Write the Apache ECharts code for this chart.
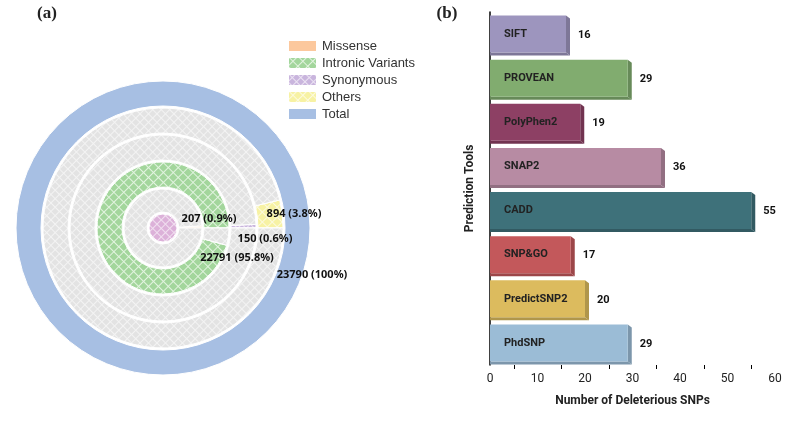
<!DOCTYPE html>
<html>
<head>
<meta charset="utf-8">
<script src="https://cdn.jsdelivr.net/npm/echarts@6/dist/echarts.min.js"></script>
<style>
  html, body { margin: 0; padding: 0; background: #fff; }
  #main { width: 790px; height: 424px; }
</style>
</head>
<body>
<div id="main"></div>
<script>
// (a) variant rings, inside -> outside
const variantNames = ['Missense', 'Intronic Variants', 'Synonymous', 'Others', 'Total']
const variantCounts = [207, 22791, 150, 894, 23790]
const variantPercents = ['0.9%', '95.8%', '0.6%', '3.8%', '100%']

// (b) prediction tools
const toolNames = ['SIFT', 'PROVEAN', 'PolyPhen2', 'SNAP2', 'CADD', 'SNP&GO', 'PredictSNP2', 'PhdSNP']
const toolCounts = [16, 29, 19, 36, 55, 17, 20, 29]
const xTicks = [0, 10, 20, 30, 40, 50, 60]

const ringColors = ['#fcc89d', '#a3d69c', '#c9b5dd', '#f7f2a4', '#a7bfe3']
const barColors = ['#9d95be', '#81ac6f', '#8d4064', '#b78ba3', '#3e717a', '#c3585b', '#dcbb5e', '#9bbcd6']

const chart = echarts.init(document.getElementById('main'))

const ringCenter = [163, 228]
const ringRadius = [[16, 39], [41, 66], [68, 93], [95, 120], [122, 147]]
const total = variantCounts[variantCounts.length - 1]

// cross hatch: small diamonds of fill color with thin lines between them
const hatch = (fill, line, size) => ({
  symbol: 'rect',
  symbolSize: 1,
  color: fill,
  backgroundColor: line,
  dashArrayX: [size, 1],
  dashArrayY: [size, 1],
  rotation: Math.PI / 4
})
const grayHatch = hatch('#e3e3e3', '#f3f3f3', 5)
const ringDecals = [
  null,
  hatch('#a3d69c', '#e2f3df', 6),
  hatch('#c9b5dd', '#ece4f3', 5),
  hatch('#f7f2a4', '#fcfadf', 6),
  null
]

const darken = (hex, k) => {
  const n = parseInt(hex.slice(1), 16)
  const c = [(n >> 16) & 255, (n >> 8) & 255, n & 255].map(v => Math.round(v * (1 - k)))
  return 'rgb(' + c.join(',') + ')'
}

const ringSeries = variantNames.map((name, i) => {
  const main = { name: name, value: variantCounts[i], itemStyle: { color: ringColors[i] } }
  if (ringDecals[i]) main.itemStyle.decal = ringDecals[i]
  const data = [main]
  if (total - variantCounts[i] > 0) {
    data.push({ name: 'rest', value: total - variantCounts[i], itemStyle: { color: '#e3e3e3', decal: grayHatch } })
  }
  return {
    type: 'pie',
    center: ringCenter,
    radius: ringRadius[i],
    startAngle: 0,
    clockwise: false,
    silent: true,
    animation: false,
    label: { show: false },
    labelLine: { show: false },
    itemStyle: { borderColor: '#fff', borderWidth: 1 },
    data: data
  }
})

// pink core in the middle
ringSeries.push({
  type: 'pie',
  center: ringCenter,
  radius: [0, 14],
  silent: true,
  animation: false,
  label: { show: false },
  itemStyle: { borderColor: '#fff', borderWidth: 1 },
  data: [{ name: 'core', value: 1, itemStyle: { color: '#dcb1d9', decal: hatch('#dcb1d9', '#f1e0f0', 5) } }]
})

const ringLabelPos = [[209, 219], [237, 258], [265, 239], [294, 214], [312, 275]]
const ringLabels = variantNames.map((name, i) => ({
  type: 'text',
  z: 100,
  x: ringLabelPos[i][0],
  y: ringLabelPos[i][1],
  style: {
    text: variantCounts[i] + ' (' + variantPercents[i] + ')',
    font: 'bold 11px "Noto Sans"',
    fill: '#111',
    align: 'center',
    verticalAlign: 'middle'
  }
}))

const renderBar = (params, api) => {
  const idx = api.value(1)
  const value = api.value(0)
  const start = api.coord([0, idx])
  const end = api.coord([value, idx])
  const h = api.size([0, 1])[1] * 0.84
  const top = start[1] - h / 2
  const bottom = top + h
  const dx = 4
  const dy = 3
  const shade = darken(barColors[idx], 0.2)
  return {
    type: 'group',
    children: [
      {
        type: 'polygon',
        shape: { points: [[start[0], bottom], [end[0], bottom], [end[0] + dx, bottom + dy], [start[0], bottom + dy]] },
        style: { fill: shade }
      },
      {
        type: 'polygon',
        shape: { points: [[end[0], top], [end[0] + dx, top + dy], [end[0] + dx, bottom + dy], [end[0], bottom]] },
        style: { fill: shade }
      },
      {
        type: 'rect',
        shape: { x: start[0], y: top, width: end[0] - start[0], height: h },
        style: { fill: barColors[idx] }
      },
      {
        type: 'text',
        x: start[0] + 14,
        y: start[1],
        style: { text: toolNames[idx], font: 'bold 11px Roboto', fill: '#222', verticalAlign: 'middle' }
      },
      {
        type: 'text',
        x: end[0] + dx + 8,
        y: start[1] + 1,
        style: { text: String(value), font: 'bold 11px Roboto', fill: '#111', verticalAlign: 'middle' }
      }
    ]
  }
}

const option = {
  animation: false,
  backgroundColor: '#fff',
  legend: {
    orient: 'vertical',
    left: 287,
    top: 39,
    padding: 0,
    itemWidth: 29,
    itemHeight: 12,
    itemGap: 3,
    icon: 'rect',
    selectedMode: false,
    data: variantNames,
    textStyle: { fontSize: 13, color: '#333', fontFamily: 'Liberation Sans' }
  },
  grid: { left: 490, right: 15, top: 12, bottom: 59 },
  xAxis: {
    type: 'value',
    min: xTicks[0],
    max: xTicks[xTicks.length - 1],
    interval: xTicks[1] - xTicks[0],
    name: 'Number of Deleterious SNPs',
    nameLocation: 'middle',
    nameGap: 30,
    nameTextStyle: { fontSize: 12, fontWeight: 'bold', color: '#222', fontFamily: 'Roboto' },
    axisLine: { lineStyle: { color: '#000', width: 1.5 } },
    axisTick: { length: 5, lineStyle: { color: '#000' } },
    minorTick: { show: true, splitNumber: 2, length: 4, lineStyle: { color: '#000' } },
    splitLine: { show: false },
    axisLabel: { fontSize: 12, color: '#222', margin: 8, fontFamily: 'Roboto' }
  },
  yAxis: {
    type: 'category',
    data: toolNames,
    inverse: true,
    name: 'Prediction Tools',
    nameLocation: 'middle',
    nameGap: 14,
    nameRotate: 90,
    nameTextStyle: { fontSize: 12, fontWeight: 'bold', color: '#222', fontFamily: 'Roboto' },
    axisLine: { lineStyle: { color: '#000', width: 1.5 } },
    axisTick: { show: false },
    axisLabel: { show: false }
  },
  graphic: [
    { type: 'text', x: 47, y: 14, style: { text: '(a)', font: 'bold 17px "Liberation Serif"', fill: '#222', align: 'center', verticalAlign: 'middle' } },
    { type: 'text', x: 447, y: 14, style: { text: '(b)', font: 'bold 17px "Liberation Serif"', fill: '#222', align: 'center', verticalAlign: 'middle' } }
  ].concat(ringLabels),
  series: ringSeries.concat([{
    type: 'custom',
    renderItem: renderBar,
    encode: { x: 0, y: 1 },
    silent: true,
    data: toolCounts.map((v, i) => [v, i])
  }])
}

chart.setOption(option)
</script>
</body>
</html>
